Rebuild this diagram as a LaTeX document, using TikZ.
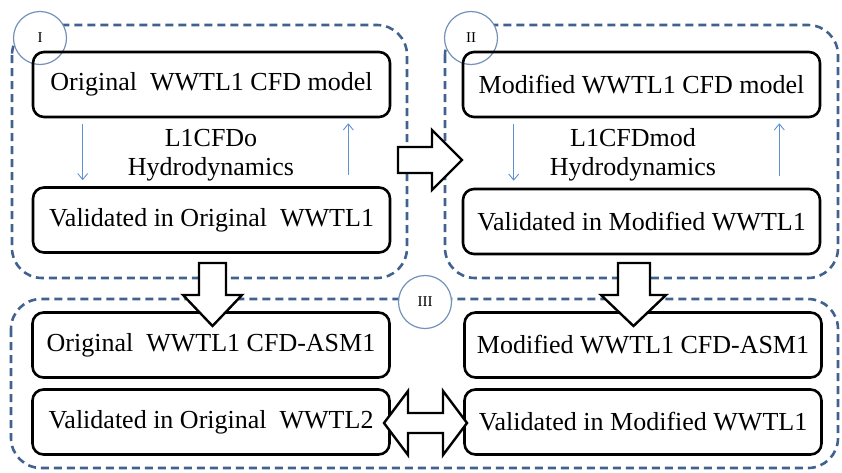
\documentclass[tikz,border=0pt]{standalone}
\usepackage{fontspec}
\setmainfont{Liberation Serif}
\usetikzlibrary{positioning, arrows.meta, calc}
\definecolor{groupblue}{RGB}{65,98,142}
\definecolor{ringblue}{RGB}{115,145,185}
\definecolor{flowblue}{RGB}{95,145,210}

\begin{document}
\begin{tikzpicture}[x=1pt, y=-1pt,
	stagebox/.style={draw, line width=2.6pt, rounded corners=11pt, minimum width=357pt,
		minimum height=65pt, inner sep=0pt, font=\fontsize{26}{30}\selectfont},
	group/.style={draw=groupblue, line width=2.6pt, dash pattern=on 8pt off 5pt, rounded corners=30pt},
	ring/.style={circle, draw=ringblue, line width=1.2pt, fill=white, minimum size=53pt,
		inner sep=0pt, font=\fontsize{15}{17}\selectfont},
	flow/.style={-{Straight Barb[length=6pt,width=10pt]}, flowblue, line width=0.9pt},
	blockarrow/.style={draw, fill=white, line width=2.4pt, line join=miter}]
	
	\useasboundingbox (0,0) rectangle (842,472);
	
	% dashed group frames
	\draw[group] (12,25) rectangle (407,278);
	\draw[group] (445,25) rectangle (838,278);
	\draw[group] (11,299) rectangle (838,468);
	
	% group numbers
	\node[ring] (gI) at (40,38) {I};
	\node[ring] (gII) at (471,38) {II};
	\node[ring] (gIII) at (425,302) {III};
	
	% stage I: original model
	\node[stagebox] (oCFD) at (211.5,84.5) {Original\ \ WWTL1 CFD model};
	\node[stagebox] (oVal) at (211.5,220) {Validated in Original\ \ WWTL1};
	\node[font=\fontsize{26}{29}\selectfont, align=center] (oHyd) at (211,155) {L1CFDo\\Hydrodynamics};
	\draw[flow] ($(oCFD.south west)+(51,6)$) -- ($(oVal.north west)+(51,-6)$);
	\draw[flow] ($(oVal.north east)+(-43,-11)$) -- ($(oCFD.south east)+(-43,5)$);
	
	% stage II: modified model
	\node[stagebox] (mCFD) at (641.5,84.5) {Modified WWTL1 CFD model};
	\node[stagebox] (mVal) at (641.5,221.5) {Validated in Modified WWTL1};
	\node[font=\fontsize{26}{29}\selectfont, align=center] (mHyd) at (633,155) {L1CFDmod\\Hydrodynamics};
	\draw[flow] ($(mCFD.south west)+(52,6)$) -- ($(mVal.north west)+(52,-7)$);
	\draw[flow] ($(mVal.north east)+(-42,-12)$) -- ($(mCFD.south east)+(-42,5)$);
	
	% stage III: coupled CFD-ASM1 models
	\node[stagebox] (oASM) at (211,345) {Original\ \ WWTL1 CFD-ASM1};
	\node[stagebox] (mASM) at (643,345) {Modified WWTL1 CFD-ASM1};
	\node[stagebox] (oVal2) at (211,422) {Validated in Original\ \ WWTL2};
	\node[stagebox] (mVal2) at (643,422) {Validated in Modified WWTL1};
	
	% block arrows between the stages
	\draw[blockarrow] (398,147) -- (432,147) -- (432,130) -- (462,160) -- (432,190)
		-- (432,173) -- (398,173) -- cycle;
	\draw[blockarrow] (199,263) -- (226,263) -- (226,295) -- (242,295) -- (212.5,326)
		-- (183,295) -- (199,295) -- cycle;
	\draw[blockarrow] (618,263) -- (650,263) -- (650,295) -- (666,295) -- (633.5,326)
		-- (601,295) -- (618,295) -- cycle;
	\draw[blockarrow] (384,423) -- (408,391) -- (408,413) -- (443,413) -- (443,391)
		-- (467,423) -- (443,455) -- (443,433) -- (408,433) -- (408,455) -- cycle;
\end{tikzpicture}
\end{document}
